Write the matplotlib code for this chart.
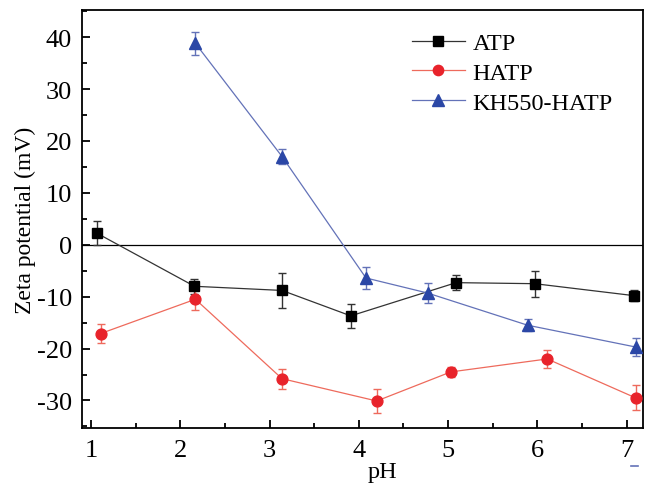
import matplotlib
matplotlib.use("Agg")
import matplotlib.pyplot as plt
from matplotlib.ticker import MultipleLocator
from matplotlib.lines import Line2D

plt.rcParams['font.family'] = ['Liberation Serif', 'DejaVu Serif']
plt.rcParams['axes.unicode_minus'] = False

# Zeta potential vs pH
atp_ph = [1.07, 2.16, 3.14, 3.91, 5.09, 5.97, 7.08]
atp_zeta = [2.2, -8.0, -8.8, -13.7, -7.3, -7.5, -9.8]
atp_err = [2.3, 1.4, 3.3, 2.3, 1.4, 2.5, 1.1]

hatp_ph = [1.11, 2.17, 3.14, 4.20, 5.03, 6.11, 7.10]
hatp_zeta = [-17.1, -10.5, -25.8, -30.1, -24.5, -22.0, -29.5]
hatp_err = [1.8, 2.0, 1.9, 2.4, 0.9, 1.8, 2.4]

kh_ph = [2.17, 3.14, 4.08, 4.77, 5.89, 7.10]
kh_zeta = [38.8, 17.0, -6.4, -9.3, -15.5, -19.7]
kh_err = [2.2, 1.4, 2.1, 1.9, 1.2, 1.7]

black = '#000000'
red = '#e8232b'
red_line = '#ee6a5c'
blue = '#2b47a6'
blue_line = '#6372b8'

fig = plt.figure(figsize=(6.48, 4.85), dpi=100)
ax = fig.add_axes([0.1265, 0.1155, 0.8655, 0.8615])

ax.axhline(0, color='black', lw=0.9, zorder=1)

ax.errorbar(atp_ph, atp_zeta, yerr=atp_err, color='#333333', lw=0.9,
            marker='s', ms=7, mfc=black, mec=black, ecolor='#333333',
            elinewidth=1.0, capsize=3.2, capthick=1.0, label='ATP', zorder=3)
ax.errorbar(hatp_ph, hatp_zeta, yerr=hatp_err, color=red_line, lw=0.9,
            marker='o', ms=7.8, mfc=red, mec=red, ecolor=red_line,
            elinewidth=1.0, capsize=3.2, capthick=1.0, label='HATP', zorder=3)
ax.errorbar(kh_ph, kh_zeta, yerr=kh_err, color=blue_line, lw=0.9,
            marker='^', ms=8.5, mfc=blue, mec=blue, ecolor=blue_line,
            elinewidth=1.0, capsize=3.2, capthick=1.0, label='KH550-HATP', zorder=3)

ax.set_xlim(0.9, 7.18)
ax.set_ylim(-35.3, 45.2)
ax.xaxis.set_major_locator(MultipleLocator(1))
ax.xaxis.set_minor_locator(MultipleLocator(0.5))
ax.yaxis.set_major_locator(MultipleLocator(10))
ax.yaxis.set_minor_locator(MultipleLocator(5))
ax.tick_params(which='both', direction='in', top=False, right=False,
               labelsize=19, width=1.3)
ax.tick_params(which='major', length=6)
ax.tick_params(axis='y', which='major', pad=7)
ax.tick_params(axis='x', which='major', pad=8)
ax.tick_params(which='minor', length=3.5)

for s in ax.spines.values():
    s.set_linewidth(1.3)

ax.set_xlabel('pH', fontsize=17.5, labelpad=-3)
ax.xaxis.set_label_coords(0.535, -0.08)
ax.set_ylabel('Zeta potential (mV)', fontsize=17, labelpad=1)

handles, labels = ax.get_legend_handles_labels()
handles = [h[0] for h in handles]
leg = ax.legend(handles, labels, loc='upper right', bbox_to_anchor=(0.985, 1.0),
                frameon=False, fontsize=17.5, handlelength=2.2, markerscale=0.95,
                handletextpad=0.3, labelspacing=0.32)

# small blue dash below the axis, lower right
fig.add_artist(Line2D([631 / 648, 638 / 648], [1 - 467 / 485, 1 - 467 / 485],
                      color=blue_line, lw=1.2))

fig.savefig('out.png', dpi=100)
